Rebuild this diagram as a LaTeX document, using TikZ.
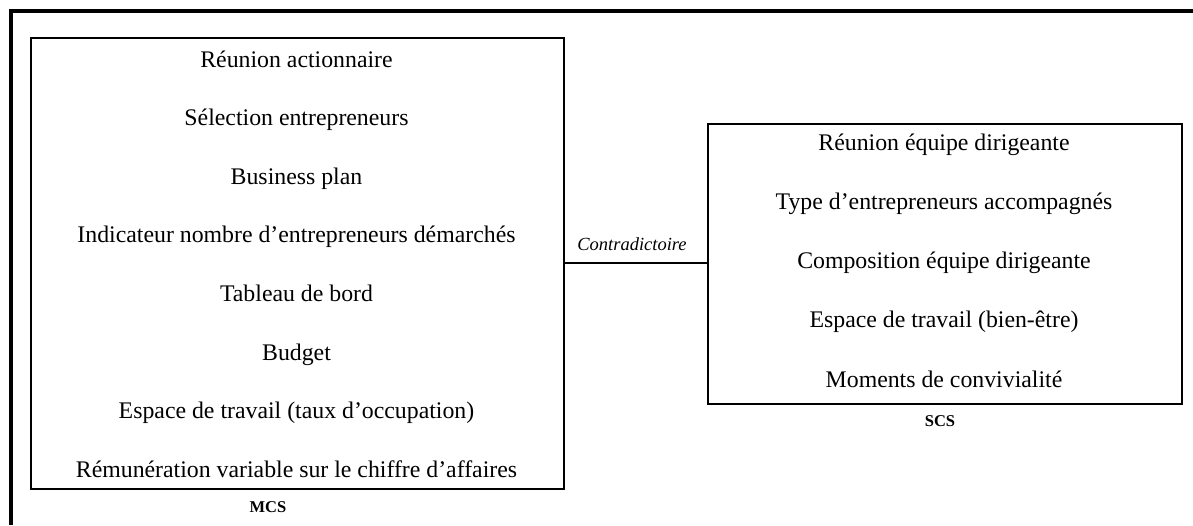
\documentclass[tikz,border=0pt]{standalone}
\usepackage{fontspec}
\setmainfont{Liberation Serif}
\begin{document}
\begin{tikzpicture}[x=1pt,y=-1pt,
  item/.style={anchor=base,font=\fontsize{23.8}{27}\selectfont,inner sep=0pt},
  box/.style={draw,line width=1.6pt},
  boxcaption/.style={anchor=base,font=\fontsize{16.5}{18}\selectfont\bfseries,inner sep=0pt},
  lab/.style={anchor=base,font=\fontsize{18.5}{20}\selectfont\itshape,inner sep=0pt}]
\useasboundingbox (0,0) rectangle (1193,525);
% outer frame (top and left only)
\draw[line width=4pt] (11,525) -- (11,11) -- (1193,11);
% boxes
\node[box,minimum width=533pt,minimum height=451pt,anchor=north west,inner sep=0pt] (mcs) at (30,37) {};
\node[box,minimum width=474pt,minimum height=280pt,anchor=north west,inner sep=0pt] (scs) at (707,123) {};
% left items
\foreach \t [count=\i] in {R\'eunion actionnaire,S\'election entrepreneurs,Business plan,Indicateur nombre d'entrepreneurs d\'emarch\'es,Tableau de bord,Budget,Espace de travail (taux d'occupation),R\'emun\'eration variable sur le chiffre d'affaires}
  \node[item] (l\i) at (296.5,{67+58.6*(\i-1)}) {\t};
% right items
\foreach \t [count=\i] in {R\'eunion \'equipe dirigeante,Type d'entrepreneurs accompagn\'es,Composition \'equipe dirigeante,Espace de travail (bien-\^etre),Moments de convivialit\'e}
  \node[item] (r\i) at (944,{150+59.3*(\i-1)}) {\t};
% captions
\node[boxcaption] (mcsl) at (268,512) {MCS};
\node[boxcaption] (scsl) at (940,426) {SCS};
% connector
\draw[line width=1.6pt] (mcs.east |- 0,263) coordinate (ca) -- (scs.west |- 0,263) coordinate (cb);
\node[lab] (contra) at (632,250) {Contradictoire};
\end{tikzpicture}
\end{document}
